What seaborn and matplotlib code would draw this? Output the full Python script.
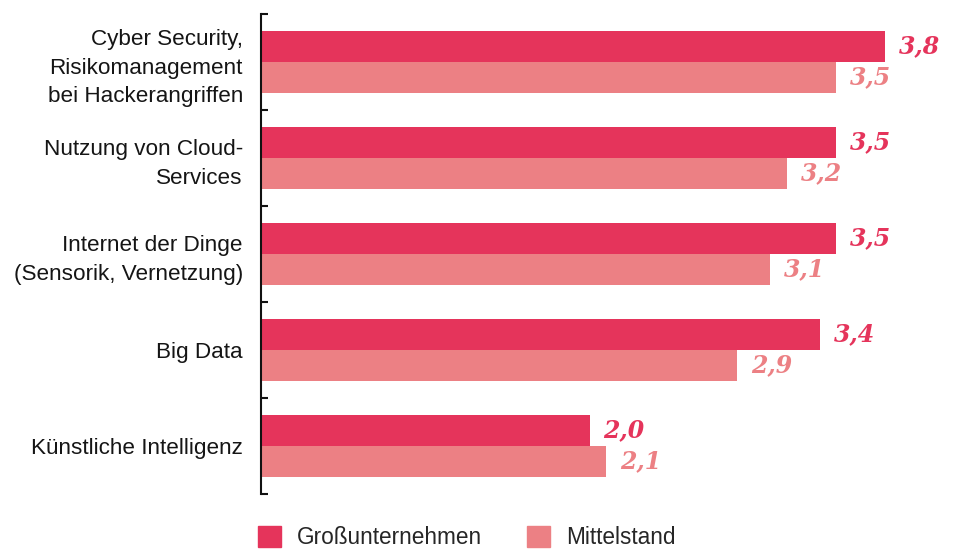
"""
Horizontal grouped bars: Großunternehmen vs. Mittelstand
"""
import pandas as pd
import seaborn as sns
import matplotlib.pyplot as plt
from matplotlib.ticker import FixedLocator

# ========== data ==========
kategorien = ['Cyber Security,\nRisikomanagement\nbei Hackerangriffen',
              'Nutzung von Cloud-\nServices',
              'Internet der Dinge\n(Sensorik, Vernetzung)',
              'Big Data',
              'Künstliche Intelligenz']
gross = [3.8, 3.5, 3.5, 3.4, 2.0]
mittel = [3.5, 3.2, 3.1, 2.9, 2.1]
gruppen = ['Großunternehmen', 'Mittelstand']

df = pd.DataFrame({
    'kategorie': kategorien * 2,
    'wert': gross + mittel,
    'gruppe': [gruppen[0]] * len(kategorien) + [gruppen[1]] * len(kategorien),
})

# ========== plot ==========
dark = '#E5345B'
light = '#EC8084'

sns.set_style('white')
plt.rcParams['font.family'] = ['Liberation Sans', 'DejaVu Sans']

fig = plt.figure(figsize=(9.55, 5.49), dpi=100)
ax = fig.add_axes([261 / 955, 55 / 549, 690 / 955, 480 / 549])

sns.barplot(data=df, y='kategorie', x='wert', hue='gruppe', orient='h',
            order=kategorien, hue_order=gruppen, palette=[dark, light],
            saturation=1, width=0.64, linewidth=0, legend=False, ax=ax)

ax.set_xlim(0, 4.2)
ax.set_ylim(4.5, -0.5)
ax.set_xlabel('')
ax.set_ylabel('')
ax.xaxis.set_visible(False)
for s in ['top', 'right', 'bottom']:
    ax.spines[s].set_visible(False)
ax.spines['left'].set_linewidth(1.5)
ax.spines['left'].set_color('#111111')

ax.yaxis.set_minor_locator(FixedLocator([i - 0.5 for i in range(len(kategorien) + 1)]))
ax.tick_params(axis='y', which='major', length=0, pad=13, labelsize=16.2, labelcolor='#151515')
ax.tick_params(axis='y', which='minor', left=True, direction='in', length=5, width=1.5, color='#111111')
for lbl in ax.get_yticklabels():
    lbl.set_linespacing(1.46)

for cont, col in zip(ax.containers, [dark, light]):
    ax.bar_label(cont, labels=[f'{b.get_width():.1f}'.replace('.', ',') for b in cont],
                 padding=10, color=col, fontsize=17, fontfamily='DejaVu Serif',
                 fontweight='bold', fontstyle='italic')

handles = [plt.Rectangle((0, 0), 1, 1, color=c) for c in [dark, light]]
fig.legend(handles, gruppen, loc='upper left', bbox_to_anchor=(258 / 955, 1 - 526 / 549),
           ncol=2, frameon=False, fontsize=16.3, handlelength=1.02, handleheight=1.02,
           handletextpad=0.7, columnspacing=2.0, borderpad=0, borderaxespad=0)

fig.savefig('out.png', dpi=100)
